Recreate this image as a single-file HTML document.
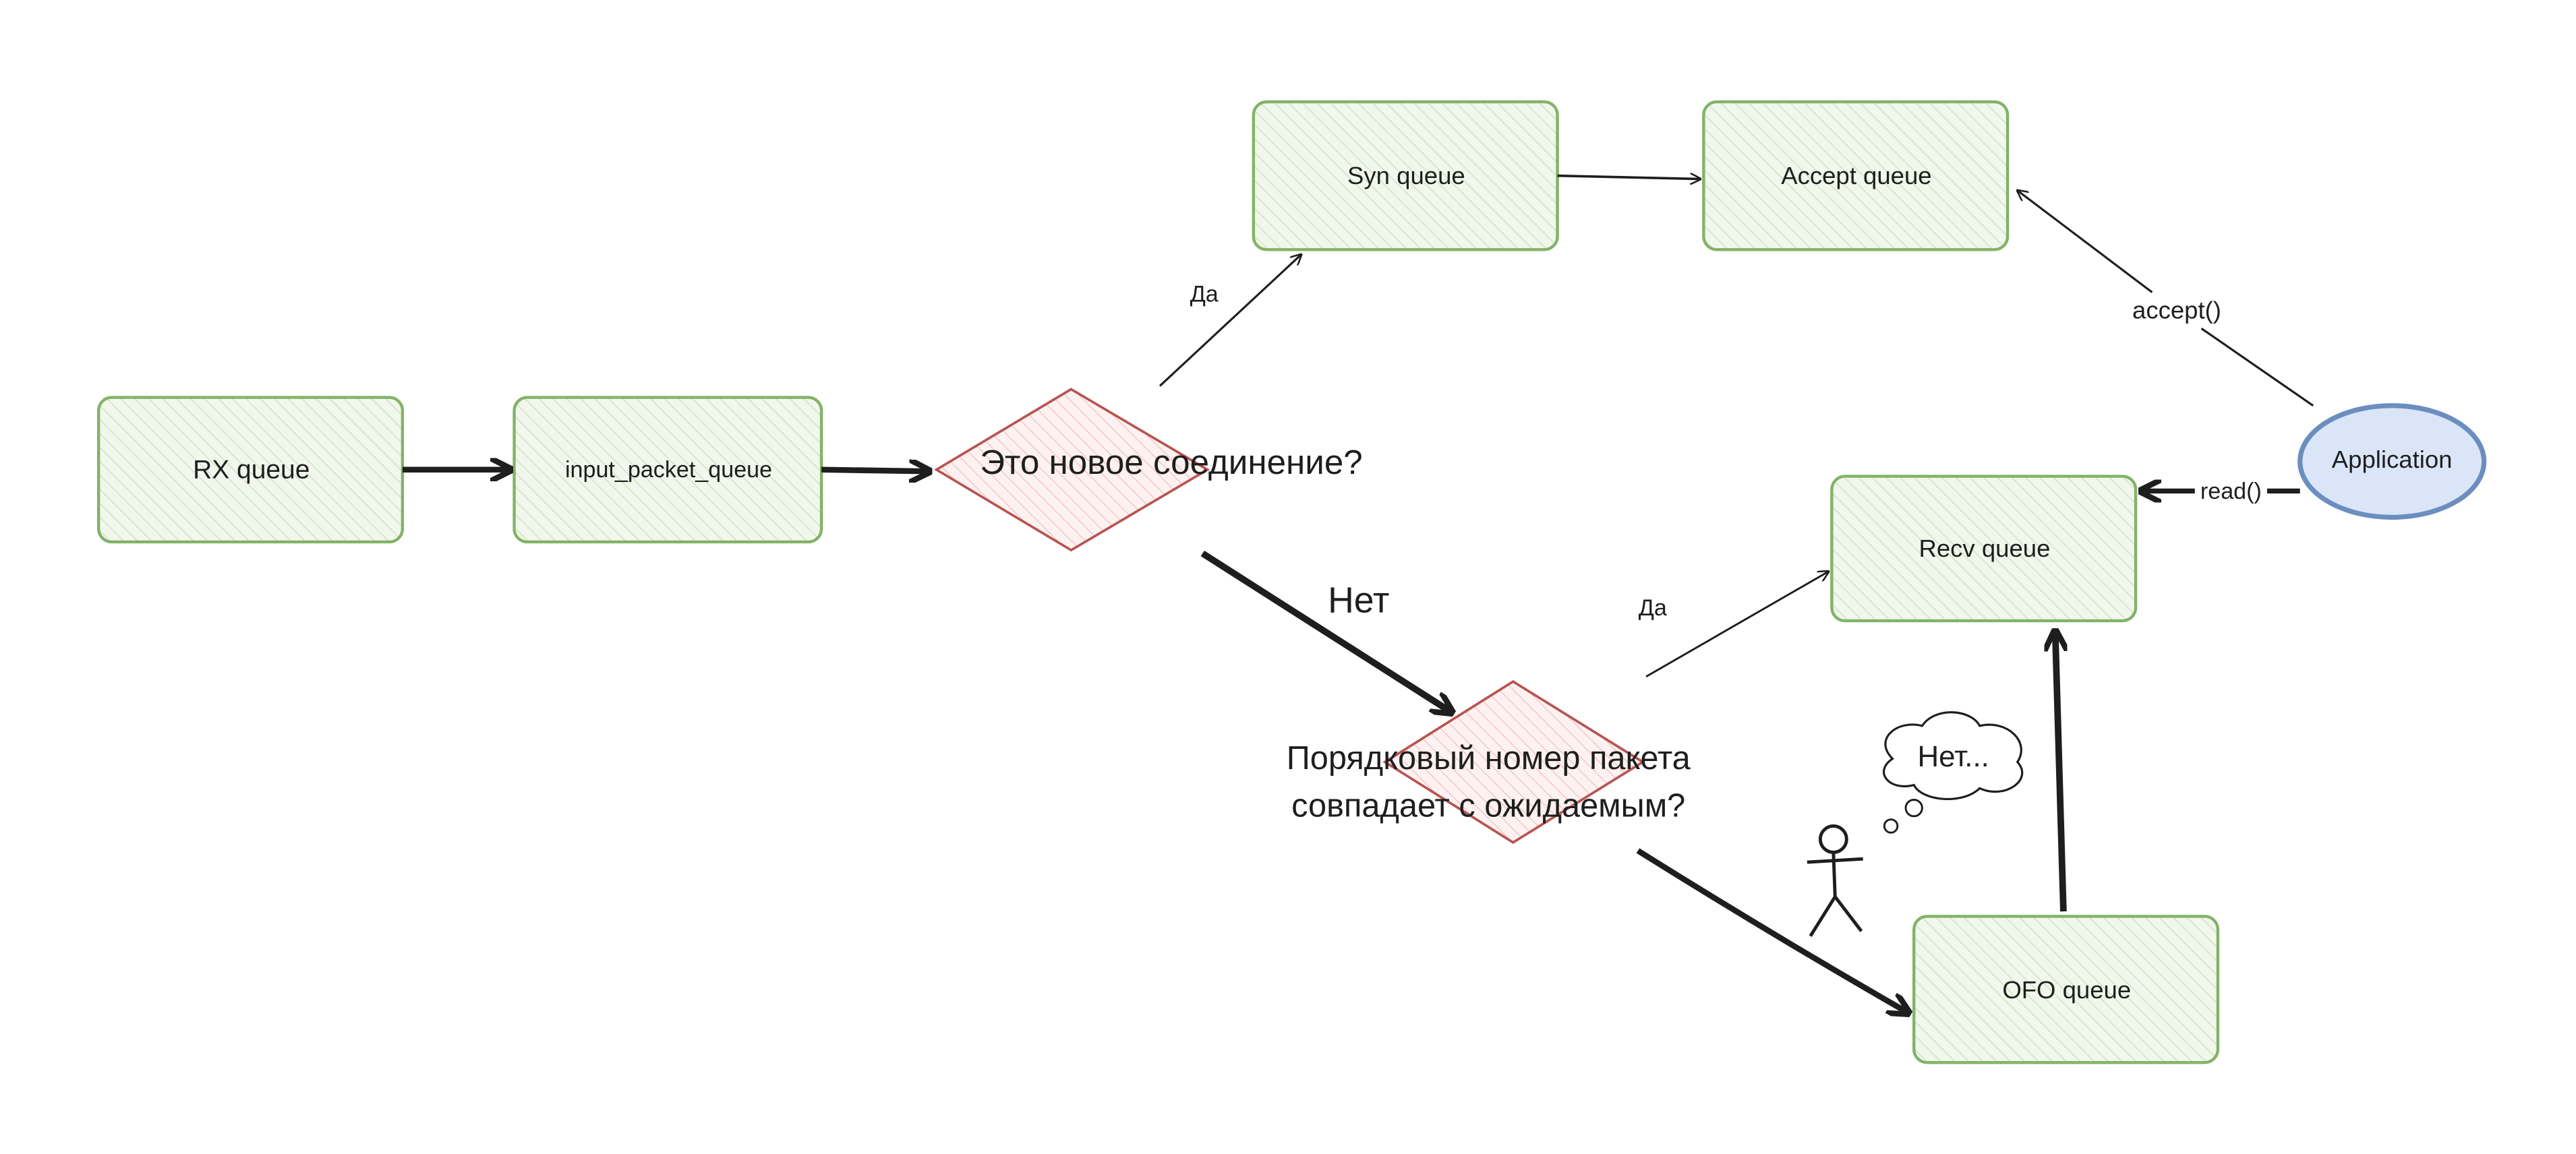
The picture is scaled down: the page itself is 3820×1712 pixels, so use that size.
<!DOCTYPE html>
<html><head><meta charset="utf-8"><style>
html,body{margin:0;padding:0;background:#fff;}
svg{display:block;}
text{font-family:"Liberation Sans","Noto Sans CJK SC",sans-serif;fill:#1e1e1e;}
</style></head><body>
<svg width="3820" height="1712" viewBox="0 0 1568 702.7" preserveAspectRatio="none" xmlns="http://www.w3.org/2000/svg">
<defs>
<marker id="a" viewBox="0 0 10 10" refX="9" refY="5" markerWidth="7" markerHeight="7" orient="auto" markerUnits="userSpaceOnUse"><path d="M0,0 L10,5 L0,10" fill="none" stroke="#1e1e1e" stroke-width="1.5"/></marker>
<marker id="b" viewBox="0 0 10 10" refX="9" refY="5" markerWidth="14" markerHeight="14" orient="auto" markerUnits="userSpaceOnUse"><path d="M0,0 L10,5 L0,10" fill="none" stroke="#1e1e1e" stroke-width="2.5"/></marker>
<pattern id="hg" width="6" height="6" patternUnits="userSpaceOnUse" patternTransform="rotate(-45)"><rect width="6" height="6" fill="#f1f7ec"/><line x1="0" y1="0" x2="0" y2="6" stroke="#cfe3c3" stroke-width="1.2"/></pattern>
<pattern id="hr" width="6" height="6" patternUnits="userSpaceOnUse" patternTransform="rotate(-45)"><rect width="6" height="6" fill="#fdf1f1"/><line x1="0" y1="0" x2="0" y2="6" stroke="#f1c8c8" stroke-width="1.2"/></pattern>
</defs>
<g stroke="#82b366" stroke-width="1.8" fill="url(#hg)">
<rect x="60" y="242" width="185" height="88" rx="8"/>
<rect x="313" y="242" width="187" height="88" rx="8"/>
<rect x="763" y="62" width="185" height="90" rx="8"/>
<rect x="1037" y="62" width="185" height="90" rx="8"/>
<rect x="1115" y="290" width="185" height="88" rx="8"/>
<rect x="1165" y="558" width="185" height="89" rx="8"/>
</g>
<g stroke="#b85450" stroke-width="1.5" fill="url(#hr)">
<path d="M652,237 L735,286 L652,335 L570,286 Z"/>
<path d="M921,415 L1000,464 L921,513 L843,464 Z"/>
</g>
<ellipse cx="1456" cy="281" rx="56" ry="34" fill="#dae6f8" stroke="#6c8ebf" stroke-width="3"/>
<g stroke="#1e1e1e" fill="none">
<line x1="245" y1="286" x2="311" y2="286" stroke-width="3.5" marker-end="url(#b)"/>
<line x1="500" y1="286" x2="566" y2="287" stroke-width="3.5" marker-end="url(#b)"/>
<line x1="706" y1="235" x2="792" y2="155" stroke-width="1.3" marker-end="url(#a)"/>
<line x1="948" y1="107" x2="1035" y2="109" stroke-width="1.5" marker-end="url(#a)"/>
<path d="M1408,247 L1340,200" stroke-width="1.3"/>
<path d="M1310,178 L1228,116" stroke-width="1.3" marker-end="url(#a)"/>
<line x1="1400" y1="299" x2="1380" y2="299" stroke-width="3"/>
<line x1="1336" y1="299" x2="1303" y2="299" stroke-width="3" marker-end="url(#b)"/>
<line x1="732" y1="337" x2="884" y2="434" stroke-width="4" marker-end="url(#b)"/>
<line x1="1002" y1="412" x2="1113" y2="348" stroke-width="1.2" marker-end="url(#a)"/>
<path d="M997,518 Q1080,570 1162,617" stroke-width="3.5" marker-end="url(#b)"/>
<line x1="1256" y1="555" x2="1251" y2="384" stroke-width="4" marker-end="url(#b)"/>
</g>
<g font-size="15" text-anchor="middle" dominant-baseline="middle">
<text x="153" y="287" font-size="16">RX queue</text>
<text x="407" y="287" font-size="14">input_packet_queue</text>
<text x="856" y="108">Syn queue</text>
<text x="1130" y="108">Accept queue</text>
<text x="1208" y="335">Recv queue</text>
<text x="1258" y="604">OFO queue</text>
<text x="1456" y="281">Application</text>
<text x="1325" y="190">accept()</text>
<text x="1358" y="300" font-size="14">read()</text>
<text x="733" y="180" font-size="14">Да</text>
<text x="1006" y="371" font-size="14">Да</text>
<text x="713" y="283" font-size="21">Это новое соединение?</text>
<text x="827" y="367" font-size="22">Нет</text>
<text x="906" y="463" font-size="20">Порядковый номер пакета</text>
<text x="906" y="492" font-size="20">совпадает с ожидаемым?</text>
</g>
<path d="M1152,462 C1140,450 1155,438 1170,442 C1178,430 1200,432 1205,442 C1222,438 1236,452 1228,464 C1238,475 1220,487 1205,480 C1195,490 1170,488 1165,478 C1150,482 1140,470 1152,462 Z" fill="#fff" stroke="#1e1e1e" stroke-width="1.3"/>
<text x="1189" y="462" font-size="18" text-anchor="middle" dominant-baseline="middle">Нет...</text>
<circle cx="1165" cy="492" r="5" fill="#fff" stroke="#1e1e1e" stroke-width="1.2"/>
<circle cx="1151" cy="503" r="4" fill="#fff" stroke="#1e1e1e" stroke-width="1.2"/>
<g stroke="#1e1e1e" stroke-width="2" fill="none">
<circle cx="1116" cy="511" r="8"/>
<line x1="1116" y1="519" x2="1117" y2="546"/>
<line x1="1100" y1="525" x2="1134" y2="523"/>
<line x1="1117" y1="546" x2="1102" y2="570"/>
<line x1="1117" y1="546" x2="1133" y2="567"/>
</g>
</svg>
</body></html>
